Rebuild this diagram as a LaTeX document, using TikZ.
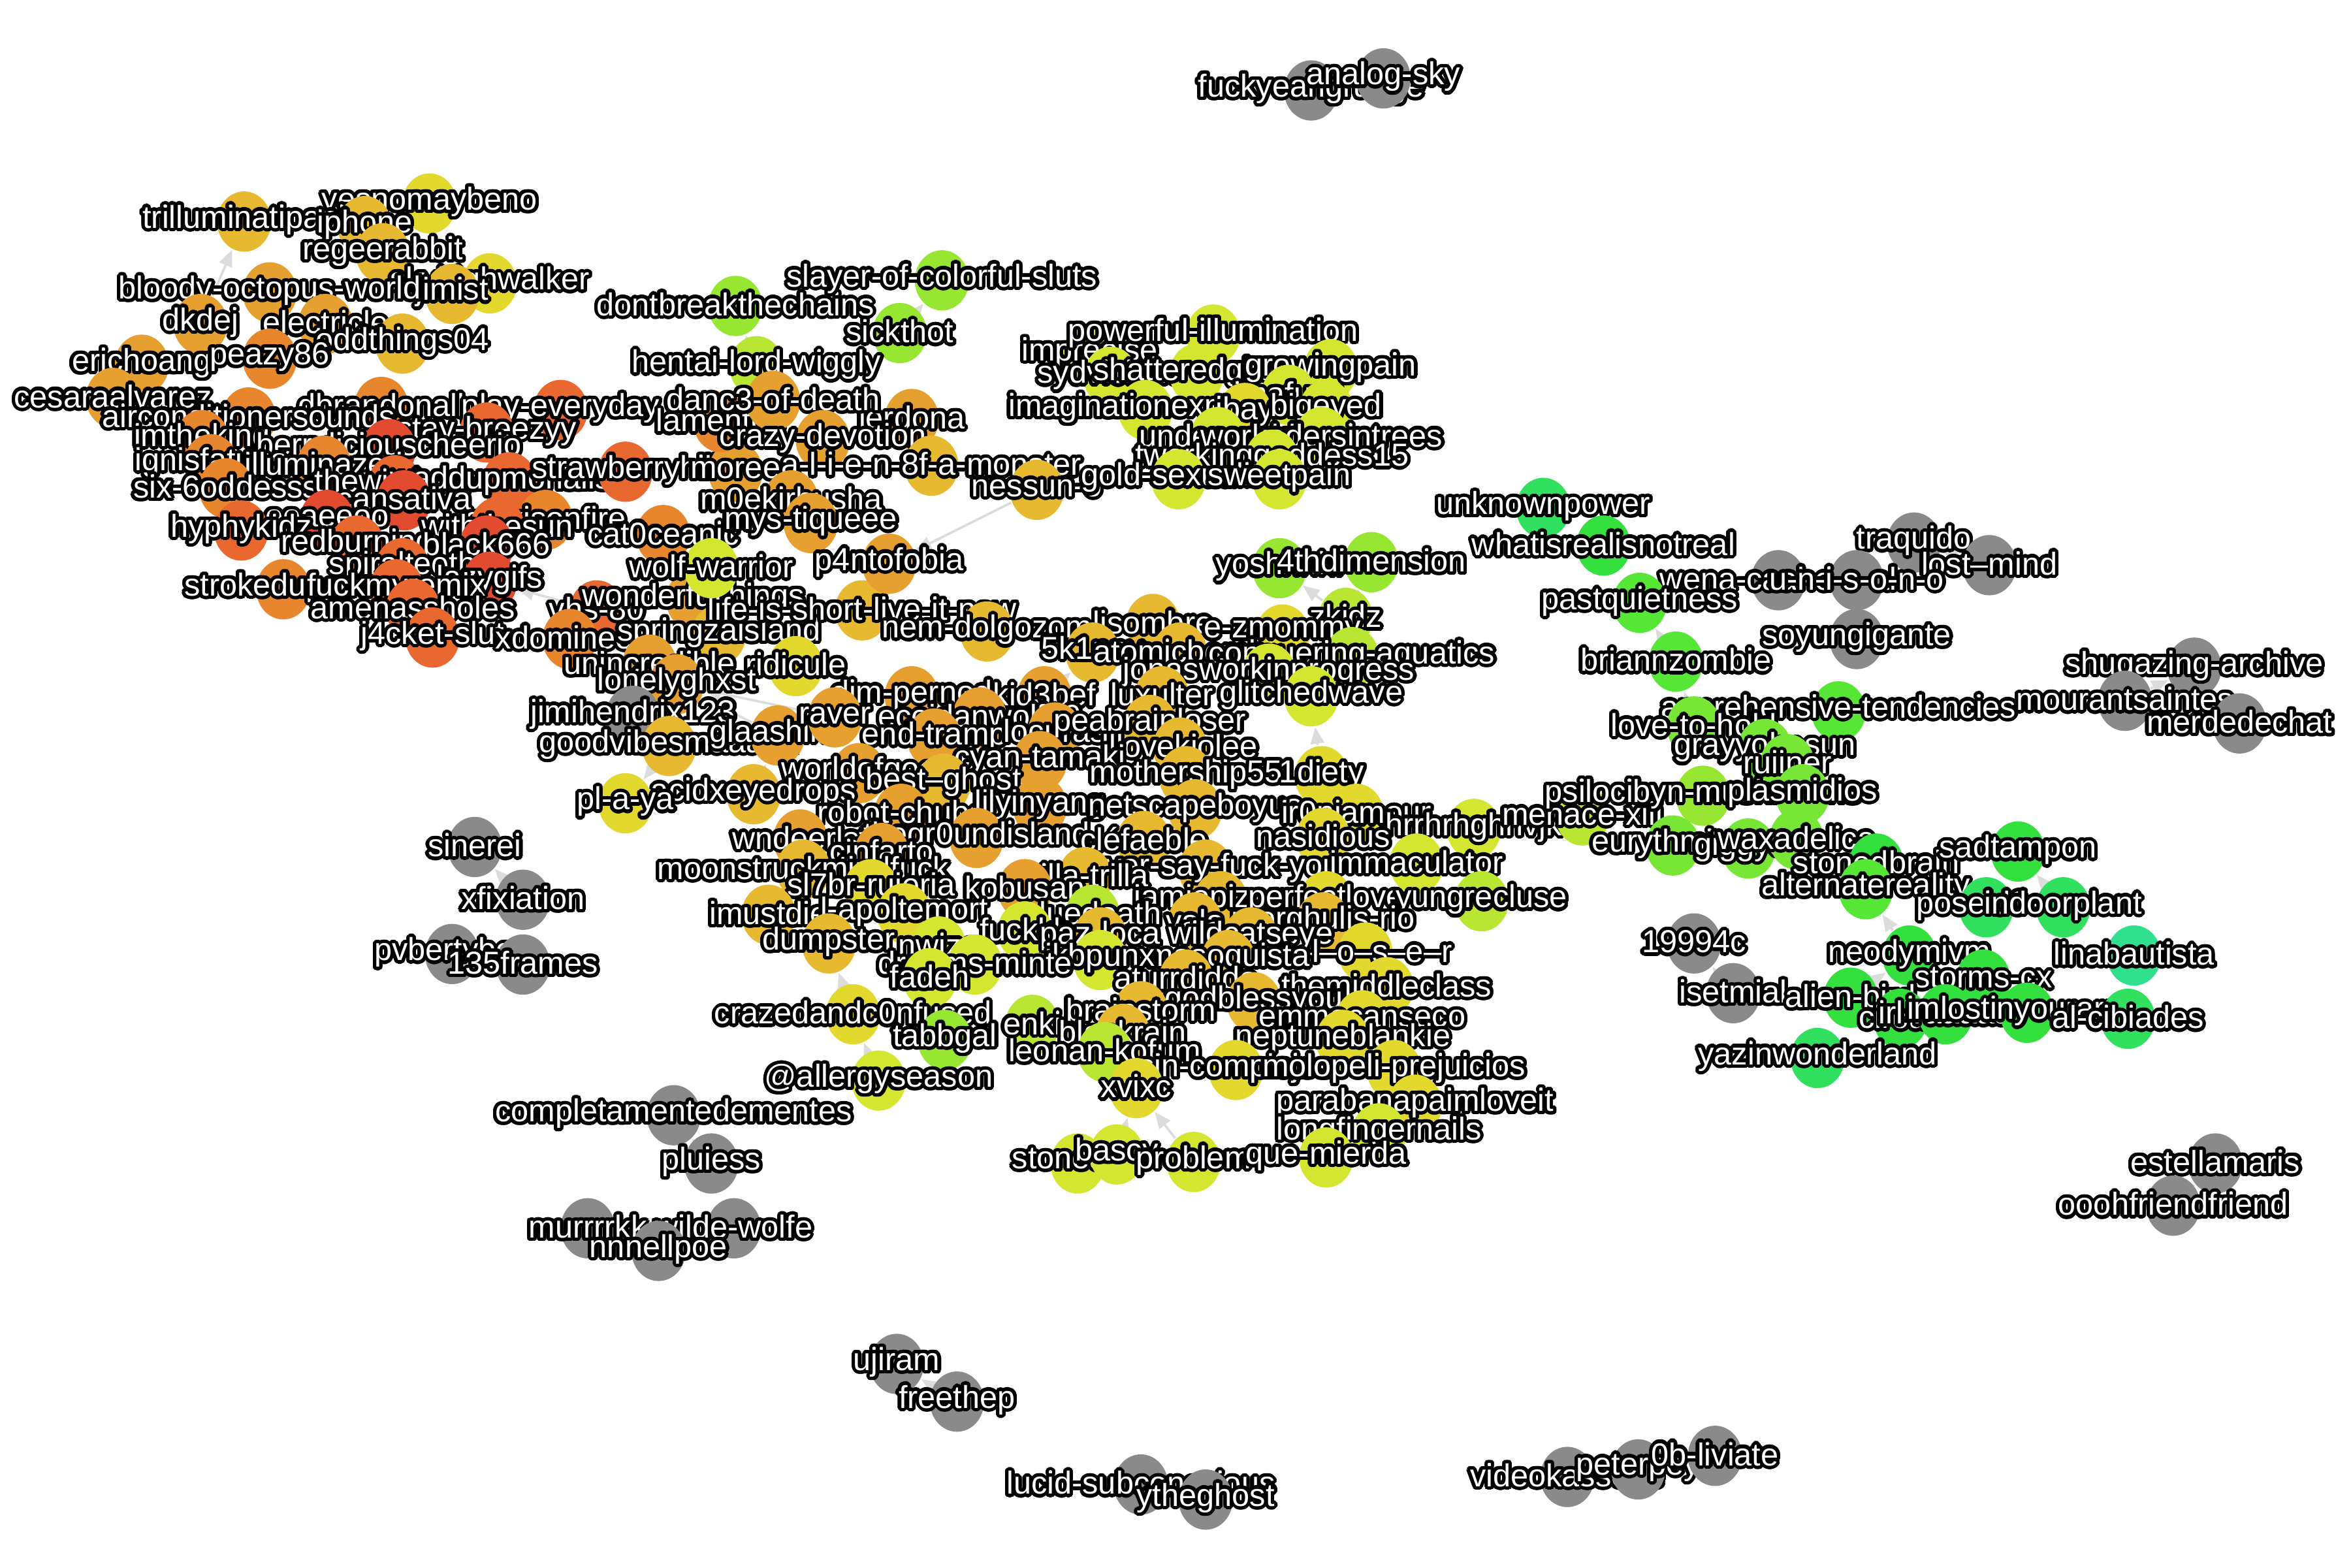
\documentclass[tikz,border=0pt]{standalone}
\usepackage{fontspec}
\setmainfont{Liberation Sans}
\usepackage{xcolor}
\usepackage{contour}
\contourlength{0.65pt}
\contournumber{24}
\usetikzlibrary{shapes.geometric,arrows.meta,backgrounds}

\definecolor{cRd}{HTML}{E34B31}
\definecolor{cRo}{HTML}{E8682F}
\definecolor{cOr}{HTML}{E8862E}
\definecolor{cAm}{HTML}{E6A030}
\definecolor{cGo}{HTML}{E6B930}
\definecolor{cYe}{HTML}{E3D92E}
\definecolor{cLi}{HTML}{D5E630}
\definecolor{cYg}{HTML}{B8E632}
\definecolor{cGr}{HTML}{96E632}
\definecolor{cGl}{HTML}{78E634}
\definecolor{cGn}{HTML}{55E636}
\definecolor{cEm}{HTML}{34E03E}
\definecolor{cSg}{HTML}{30E05E}
\definecolor{cTq}{HTML}{30E08E}
\definecolor{cGy}{HTML}{8A8A8A}
\definecolor{edgegray}{HTML}{DCDCDC}

\newcommand\nm[1]{\makebox[0pt]{\contour{black}{#1}}}

\begin{document}
\begin{tikzpicture}[x=0.1mm, y=-0.1mm,
    usr/.style={shape=ellipse, minimum width=3.6mm, minimum height=4mm,
      inner sep=0pt, fill=#1, text=white, font=\fontsize{6}{6.5}\selectfont},
    ed/.style={draw=edgegray, line width=0.45pt,
      -{Triangle[length=1.1mm,width=0.9mm]}}]
  \useasboundingbox (0,0) rectangle (1560,1040);

  % isolated pairs
  \node[usr=cGy] (fuckyeah) at (870,60) {\nm{fuckyeahgrunge}};
  \node[usr=cGy] (analogsky) at (918,52) {\nm{analog-sky}};
  \node[usr=cGy] (sinerei) at (315,562) {\nm{sinerei}};
  \node[usr=cGy] (xfixiation) at (347,597) {\nm{xfixiation}};
  \node[usr=cGy] (pvbertyboy) at (300,633) {\nm{pvbertyboy}};
  \node[usr=cGy] (135frames) at (347,640) {\nm{135frames}};
  \node[usr=cGy] (completamentedementes) at (447,740) {\nm{completamentedementes}};
  \node[usr=cGy] (pluiess) at (472,772) {\nm{pluiess}};
  \node[usr=cGy] (murrrrkk) at (390,815) {\nm{murrrrkk}};
  \node[usr=cGy] (wildewolfe) at (487,815) {\nm{wilde-wolfe}};
  \node[usr=cGy] (nnnellpoe) at (437,830) {\nm{nnnellpoe}};
  \node[usr=cGy] (ujiram) at (595,905) {\nm{ujiram}};
  \node[usr=cGy] (freethep) at (635,930) {\nm{freethep}};
  \node[usr=cGy] (lucidsub) at (757,985) {\nm{lucid-subconscious}};
  \node[usr=cGy] (ytheghost) at (800,995) {\nm{ytheghost}};
  \node[usr=cGy] (videokassette) at (1040,980) {\nm{videokassette}};
  \node[usr=cGy] (peterpey) at (1087,975) {\nm{peterpey}};
  \node[usr=cGy] (0bliviate) at (1138,966) {\nm{0b-liviate}};
  \node[usr=cGy] (estellamaris) at (1470,772) {\nm{estellamaris}};
  \node[usr=cGy] (ooohfriendfriend) at (1442,800) {\nm{ooohfriendfriend}};
  \node[usr=cGy] (19994c) at (1124,626) {\nm{19994c}};
  \node[usr=cGy] (isetmial) at (1150,659) {\nm{isetmial}};
  \node[usr=cGy] (shugazing) at (1456,443) {\nm{shugazing-archive}};
  \node[usr=cGy] (mourantsaintes) at (1410,465) {\nm{mourantsaintes}};
  \node[usr=cGy] (merdedechat) at (1486,480) {\nm{merdedechat}};
  \node[usr=cGy] (traquido) at (1270,360) {\nm{traquido}};
  \node[usr=cGy] (lostmind) at (1320,375) {\nm{lost--mind}};
  \node[usr=cGy] (wenacaal) at (1180,385) {\nm{wena-caal-oficial}};
  \node[usr=cGy] (unisono) at (1232,385) {\nm{u-n-i-s-o-n-o}};
  \node[usr=cGy] (soyungigante) at (1232,424) {\nm{soyungigante}};

  % left cluster
  \node[usr=cYe] (yesnomaybeno) at (285,135) {\nm{yesnomaybeno}};
  \node[usr=cGo] (trilluminatipapi) at (162,147) {\nm{trilluminatipapi}};
  \node[usr=cGo] (iphone) at (242,150) {\nm{iphone}};
  \node[usr=cGo] (regeerabbit) at (254,168) {\nm{regeerabbit}};
  \node[usr=cYe] (skyhighwalker) at (325,188) {\nm{skyhighwalker}};
  \node[usr=cGo] (jimist) at (300,195) {\nm{jimist}};
  \node[usr=cAm] (bloodyoctopus) at (179,194) {\nm{bloody-octopus-world}};
  \node[usr=cAm] (dkdej) at (133,215) {\nm{dkdej}};
  \node[usr=cAm] (electricle) at (216,215) {\nm{electricle}};
  \node[usr=cGo] (oddthings04) at (267,228) {\nm{oddthings04}};
  \node[usr=cAm] (erichoang) at (94,242) {\nm{erichoang}};
  \node[usr=cOr] (peazy86) at (179,238) {\nm{peazy86}};
  \node[usr=cAm] (cesaraalvarez) at (75,264) {\nm{cesaraalvarez}};
  \node[usr=cOr] (dbrandonall) at (253,270) {\nm{dbrandonall}};
  \node[usr=cOr] (airconditioner) at (165,277) {\nm{airconditionersounds}};
  \node[usr=cRo] (playeveryday) at (372,272) {\nm{play-everyday}};
  \node[usr=cRo] (staybreezyy) at (323,287) {\nm{stay-breezyy}};
  \node[usr=cOr] (imtheking) at (134,292) {\nm{imtheking}};
  \node[usr=cRd] (berrylicious) at (258,298) {\nm{berryliciouscheerio}};
  \node[usr=cOr] (ignisfatuus) at (140,308) {\nm{ignisfatuus}};
  \node[usr=cOr] (illuminazeri) at (215,309) {\nm{illuminazeri}};
  \node[usr=cOr] (six6oddesss) at (150,324) {\nm{six-6oddesss}};
  \node[usr=cRo] (thewitchery) at (262,322) {\nm{thewitchery}};
  \node[usr=cRo] (waddup) at (338,320) {\nm{waddupmonalisa}};
  \node[usr=cRo] (strawberryhill) at (415,313) {\nm{strawberryhill}};
  \node[usr=cAm] (moree) at (488,313) {\nm{moree}};
  \node[usr=cRd] (cansativa) at (268,332) {\nm{cansativa}};
  \node[usr=cRd] (ooaeeoo) at (217,345) {\nm{ooaeeoo}};
  \node[usr=cRo] (hyphykidz) at (160,352) {\nm{hyphykidz}};
  \node[usr=cOr] (alexisonfire) at (362,345) {\nm{alexisonfire}};
  \node[usr=cRo] (withthesun) at (330,350) {\nm{withthesun}};
  \node[usr=cRo] (redburning) at (237,362) {\nm{redburning}};
  \node[usr=cRd] (black666) at (323,362) {\nm{black666}};
  \node[usr=cOr] (cat0ceanic) at (440,355) {\nm{cat0ceanic}};
  \node[usr=cRo] (spiralteeth) at (267,377) {\nm{spiralteeth}};
  \node[usr=cOr] (strokedupsoul) at (188,391) {\nm{strokedupsoul}};
  \node[usr=cRd] (lazygifs) at (325,386) {\nm{lazygifs}};
  \node[usr=cRo] (fuckmyremix) at (263,391) {\nm{fuckmyremix}};
  \node[usr=cRo] (amenassholes) at (274,404) {\nm{amenassholes}};
  \node[usr=cRo] (vhs80) at (396,405) {\nm{vhs-80}};
  \node[usr=cRo] (j4cketslut) at (287,423) {\nm{j4cket-slut}};
  \node[usr=cOr] (xdomineer) at (378,424) {\nm{xdomineer}};
  \node[usr=cAm] (wonderfulthings) at (460,398) {\nm{wonderfulthings}};
  \node[usr=cGo] (springzaisland) at (477,421) {\nm{springzaisland}};
  \node[usr=cGo] (lifeisshort) at (572,405) {\nm{life-is-short-live-it-now}};
  \node[usr=cYe] (ridicule) at (528,442) {\nm{ridicule}};
  \node[usr=cAm] (unincredible) at (431,441) {\nm{unincredible}};
  \node[usr=cAm] (lonelyghxst) at (449,454) {\nm{lonelyghxst}};
  \node[usr=cGy] (jimihendrix123) at (420,475) {\nm{jimihendrix123}};

  % upper middle
  \node[usr=cGr] (dontbreakthechains) at (488,203) {\nm{dontbreakthechains}};
  \node[usr=cGr] (slayer) at (625,186) {\nm{slayer-of-colorful-sluts}};
  \node[usr=cGr] (sickthot) at (597,221) {\nm{sickthot}};
  \node[usr=cYg] (hentailordwiggly) at (502,243) {\nm{hentai-lord-wiggly}};
  \node[usr=cOr] (lamentos) at (478,280) {\nm{lamentos}};
  \node[usr=cAm] (lerdona) at (605,278) {\nm{lerdona}};
  \node[usr=cAm] (danc3ofdeath) at (513,266) {\nm{danc3-of-death}};
  \node[usr=cAm] (crazydevotion) at (546,292) {\nm{crazy-devotion}};
  \node[usr=cGo] (alien8f) at (618,309) {\nm{a-l-i-e-n-8f-a-monster}};
  \node[usr=cGo] (nessuno) at (688,325) {\nm{nessun-o}};
  \node[usr=cAm] (m0ekirbusha) at (525,332) {\nm{m0ekirbusha}};
  \node[usr=cAm] (mystiqueee) at (538,347) {\nm{mys-tiqueee}};
  \node[usr=cLi] (wolfwarrior) at (472,377) {\nm{wolf-warrior}};
  \node[usr=cAm] (p4ntofobia) at (590,374) {\nm{p4ntofobia}};

  % upper yellow group
  \node[usr=cLi] (imprecise) at (723,235) {\nm{imprecise}};
  \node[usr=cLi] (powerful) at (805,222) {\nm{powerful-illumination}};
  \node[usr=cLi] (sydvicious) at (737,250) {\nm{sydvicious}};
  \node[usr=cLi] (shatteredglass) at (794,248) {\nm{shatteredglass}};
  \node[usr=cLi] (growingpain) at (883,245) {\nm{growingpain}};
  \node[usr=cLi] (imafuzz) at (855,262) {\nm{imafuzz}};
  \node[usr=cLi] (imaginationexpress) at (760,272) {\nm{imaginationexpress}};
  \node[usr=cYe] (ibay) at (826,274) {\nm{ibay}};
  \node[usr=cLi] (bigeyed) at (880,272) {\nm{bigeyed}};
  \node[usr=cLi] (underworld) at (808,290) {\nm{underworld}};
  \node[usr=cLi] (workaders) at (877,290) {\nm{workadersintrees}};
  \node[usr=cLi] (twerking) at (844,305) {\nm{twerkinggoddess15}};
  \node[usr=cLi] (goldsexuality) at (782,318) {\nm{gold-sexuality}};
  \node[usr=cLi] (sweetpain) at (849,318) {\nm{sweetpain}};

  % centre cluster
  \node[usr=cGr] (yoshhhhi) at (849,377) {\nm{yoshhhhi}};
  \node[usr=cGr] (4thdimension) at (910,373) {\nm{4thdimension}};
  \node[usr=cGo] (nemdolgozom) at (655,419) {\nm{nem-dolgozom}};
  \node[usr=cGo] (lisombre) at (765,414) {\nm{lisombre}};
  \node[usr=cYg] (zkidz) at (893,410) {\nm{zkidz}};
  \node[usr=cYe] (ezmommy) at (851,421) {\nm{e-zmommy}};
  \node[usr=cGo] (5k1nny) at (725,433) {\nm{5k1nny}};
  \node[usr=cGo] (atomicbomb) at (783,433) {\nm{atomicbomb}};
  \node[usr=cYg] (aquatics) at (897,436) {\nm{conquering-aquatics}};
  \node[usr=cLi] (jonas) at (842,447) {\nm{jonasworkinprogress}};
  \node[usr=cGo] (luxulter) at (771,462) {\nm{luxulter}};
  \node[usr=cLi] (glitchedwave) at (870,462) {\nm{glitchedwave}};
  \node[usr=cAm] (dimpernod) at (605,462) {\nm{dim-pernod}};
  \node[usr=cAm] (kid3bef) at (693,462) {\nm{kid3bef}};
  \node[usr=cGo] (goodvibes) at (444,495) {\nm{goodvibesmaaaan}};
  \node[usr=cAm] (glaashine) at (516,488) {\nm{glaashine}};
  \node[usr=cAm] (raver) at (554,476) {\nm{raver}};
  \node[usr=cAm] (ecoidanwolf10) at (650,476) {\nm{ecoidanwolf10}};
  \node[usr=cAm] (endtramp) at (620,490) {\nm{end-tramp}};
  \node[usr=cAm] (locuras) at (700,486) {\nm{locuras}};
  \node[usr=cGo] (peabrainloser) at (763,481) {\nm{peabrainloser}};
  \node[usr=cGo] (lllovekiolee) at (783,496) {\nm{lllovekiolee}};
  \node[usr=cAm] (cyantamaki) at (690,505) {\nm{cyan-tamaki}};
  \node[usr=cAm] (worldofgoo) at (570,513) {\nm{worldofgoo}};
  \node[usr=cGo] (mothership55) at (787,515) {\nm{mothership55}};
  \node[usr=cYe] (1diety) at (877,515) {\nm{1diety}};
  \node[usr=cGo] (acidxeyedrops) at (500,527) {\nm{acidxeyedrops}};
  \node[usr=cYe] (playa) at (415,533) {\nm{pl-a-ya}};
  \node[usr=cGo] (bestghost) at (626,520) {\nm{best--ghost}};
  \node[usr=cAm] (robotchubs) at (598,540) {\nm{robot-chubs}};
  \node[usr=cAm] (lilyinyang) at (690,535) {\nm{lilyinyang}};
  \node[usr=cGo] (netscapeboyus) at (793,537) {\nm{netscapeboyus}};
  \node[usr=cYe] (ir0niamour) at (900,540) {\nm{ir0niamour}};
  \node[usr=cLi] (hrrhrh) at (978,550) {\nm{hrrhrhghnvjk}};
  \node[usr=cYg] (menacexiii) at (1050,541) {\nm{menace-xiii}};
  \node[usr=cAm] (wndeerlst) at (531,557) {\nm{wndeerlst}};
  \node[usr=cAm] (thegr0undisland) at (648,556) {\nm{thegr0undisland}};
  \node[usr=cGo] (clefaeble) at (759,558) {\nm{cléfaeble}};
  \node[usr=cYe] (nasidious) at (878,556) {\nm{nasidious}};
  \node[usr=cAm] (cinfarto) at (585,566) {\nm{cinfarto}};
  \node[usr=cGo] (moonstruck) at (533,577) {\nm{moonstruckmindfuck}};
  \node[usr=cGo] (neversay) at (800,577) {\nm{never-say-fuck-you}};
  \node[usr=cLi] (immaculator) at (940,573) {\nm{immaculator}};
  \node[usr=cGo] (trillatrilla) at (720,582) {\nm{trilla-trilla}};
  \node[usr=cYe] (sl7brrujeria) at (578,590) {\nm{sl7br-rujeria}};
  \node[usr=cAm] (kobusan) at (680,590) {\nm{kobusan}};
  \node[usr=cGo] (jamiepizarro) at (810,598) {\nm{jamiepizarro}};
  \node[usr=cYe] (perfectlove) at (880,598) {\nm{perfectlove}};
  \node[usr=cYg] (yungrecluse) at (983,598) {\nm{yungrecluse}};
  \node[usr=cGo] (imustdie) at (510,607) {\nm{imustdie}};
  \node[usr=cYe] (lapoltemort) at (600,606) {\nm{l-apoltemort}};
  \node[usr=cYg] (cluedeath) at (725,607) {\nm{cluedeath}};
  \node[usr=cGo] (vala) at (793,612) {\nm{vala}};
  \node[usr=cGo] (morghulis) at (878,612) {\nm{morghulis-rio}};
  \node[usr=cLi] (fuckkk) at (680,618) {\nm{fuckkk}};
  \node[usr=cGo] (pazloca) at (730,622) {\nm{paz-loca}};
  \node[usr=cGo] (wildcatseye) at (830,622) {\nm{wildcatseye}};
  \node[usr=cGo] (dumpster) at (550,626) {\nm{dumpster}};
  \node[usr=cLi] (nwiza) at (623,628) {\nm{nwiza}};
  \node[usr=cYe] (closer) at (906,632) {\nm{c--l--o--s--e--r}};
  \node[usr=cGo] (masoquista) at (815,637) {\nm{masoquista}};
  \node[usr=cLi] (ikbpunx) at (730,637) {\nm{ikbpunx}};
  \node[usr=cLi] (dreamsminte) at (647,640) {\nm{dreams-minte}};
  \node[usr=cLi] (fadeh) at (617,649) {\nm{fadeh}};
  \node[usr=cGo] (aturrdiddo) at (787,650) {\nm{aturrdiddo}};
  \node[usr=cYe] (themiddleclass) at (920,655) {\nm{themiddleclass}};
  \node[usr=cGo] (godblessyou) at (832,665) {\nm{godblessyou}};
  \node[usr=cGo] (brainstorm) at (757,671) {\nm{brainstorm}};
  \node[usr=cYe] (crazed) at (566,673) {\nm{crazedandc0nfused}};
  \node[usr=cYe] (emmacanseco) at (904,677) {\nm{emmacanseco}};
  \node[usr=cYg] (enki) at (685,680) {\nm{enki}};
  \node[usr=cGo] (blackrain) at (745,686) {\nm{blackrain}};
  \node[usr=cGr] (tabbgal) at (627,690) {\nm{tabbgal}};
  \node[usr=cYe] (neptuneblankie) at (891,690) {\nm{neptuneblankie}};
  \node[usr=cYg] (leonankofum) at (733,698) {\nm{leonan-kofum}};
  \node[usr=cYe] (sincomplejos) at (820,710) {\nm{sin-complejos}};
  \node[usr=cYe] (molopeli) at (925,710) {\nm{molopeli-prejuicios}};
  \node[usr=cLi] (allergyseason) at (583,717) {\nm{@allergyseason}};
  \node[usr=cYe] (xvixc) at (754,722) {\nm{xvixc}};
  \node[usr=cYe] (parabanapa) at (939,733) {\nm{parabanapaimloveit}};
  \node[usr=cLi] (longfingernails) at (915,752) {\nm{longfingernails}};
  \node[usr=cLi] (stoneage) at (715,772) {\nm{stoneage}};
  \node[usr=cLi] (bascy) at (741,766) {\nm{bascy}};
  \node[usr=cLi] (problem) at (792,771) {\nm{problem}};
  \node[usr=cLi] (quemierda) at (880,768) {\nm{que-mierda}};

  % right cluster
  \node[usr=cSg] (unknownpower) at (1024,337) {\nm{unknownpower}};
  \node[usr=cEm] (whatisreal) at (1064,362) {\nm{whatisrealisnotreal}};
  \node[usr=cGn] (pastquietness) at (1088,400) {\nm{pastquietness}};
  \node[usr=cGn] (briannzombie) at (1112,439) {\nm{briannzombie}};
  \node[usr=cGn] (apprehensive) at (1220,472) {\nm{apprehensive-tendencies}};
  \node[usr=cGl] (lovetohold) at (1124,482) {\nm{love-to-hold}};
  \node[usr=cGl] (grayyohesun) at (1171,497) {\nm{grayyohesun}};
  \node[usr=cGl] (ruiiner) at (1186,507) {\nm{ruiiner}};
  \node[usr=cGr] (psilocibyn) at (1130,528) {\nm{psilocibyn-mushrooms}};
  \node[usr=cGl] (plasmidios) at (1196,527) {\nm{plasmidios}};
  \node[usr=cGl] (eurythmical) at (1110,561) {\nm{eurythmical}};
  \node[usr=cGl] (giggyss) at (1160,563) {\nm{giggyss}};
  \node[usr=cGl] (waxadelica) at (1192,557) {\nm{waxadelica}};
  \node[usr=cEm] (stonedbrain) at (1245,573) {\nm{stonedbrain}};
  \node[usr=cEm] (sadtampon) at (1339,565) {\nm{sadtampon}};
  \node[usr=cGn] (alternatereality) at (1238,590) {\nm{alternatereality}};
  \node[usr=cSg] (poseid0n) at (1318,602) {\nm{poseid0-n}};
  \node[usr=cSg] (indoorplant) at (1369,602) {\nm{indoorplant}};
  \node[usr=cEm] (neodymivm) at (1267,634) {\nm{neodymivm}};
  \node[usr=cTq] (linabautista) at (1416,634) {\nm{linabautista}};
  \node[usr=cEm] (stormscx) at (1316,650) {\nm{storms-cx}};
  \node[usr=cEm] (alienbird) at (1228,662) {\nm{alien-bird}};
  \node[usr=cEm] (circus) at (1261,676) {\nm{circus}};
  \node[usr=cEm] (irlraaaaa) at (1291,673) {\nm{irl-raaaaa}};
  \node[usr=cEm] (imlostinyourarms) at (1345,672) {\nm{imlostinyourarms}};
  \node[usr=cSg] (alcibiades) at (1412,676) {\nm{al-cibiades}};
  \node[usr=cSg] (yazinwonderland) at (1206,702) {\nm{yazinwonderland}};

  \begin{scope}[on background layer]
    \draw[ed] (analogsky) -- (fuckyeah);
    \draw[ed] (xfixiation) -- (sinerei);
    \draw[ed] (135frames) -- (pvbertyboy);
    \draw[ed] (pluiess) -- (completamentedementes);
    \draw[ed] (nnnellpoe) -- (murrrrkk);
    \draw[ed] (wildewolfe) -- (nnnellpoe);
    \draw[ed] (freethep) -- (ujiram);
    \draw[ed] (ytheghost) -- (lucidsub);
    \draw[ed] (peterpey) -- (videokassette);
    \draw[ed] (0bliviate) -- (peterpey);
    \draw[ed] (ooohfriendfriend) -- (estellamaris);
    \draw[ed] (isetmial) -- (19994c);
    \draw[ed] (mourantsaintes) -- (shugazing);
    \draw[ed] (merdedechat) -- (shugazing);
    \draw[ed] (lostmind) -- (traquido);
    \draw[ed] (unisono) -- (wenacaal);
    \draw[ed] (soyungigante) -- (unisono);
    \draw[ed] (dkdej) -- (trilluminatipapi);
    \draw[ed] (vhs80) -- (lazygifs);
    \draw[ed] (nessuno) -- (p4ntofobia);
    \draw[ed] (p4ntofobia) -- (lifeisshort);
    \draw[ed] (raver) -- (lonelyghxst);
    \draw[ed] (glaashine) -- (lonelyghxst);
    \draw[ed] (goodvibes) -- (playa);
    \draw[ed] (acidxeyedrops) -- (glaashine);
    \draw[ed] (hentailordwiggly) -- (dontbreakthechains);
    \draw[ed] (sickthot) -- (slayer);
    \draw[ed] (goldsexuality) -- (imaginationexpress);
    \draw[ed] (kid3bef) -- (5k1nny);
    \draw[ed] (zkidz) -- (yoshhhhi);
    \draw[ed] (zkidz) -- (4thdimension);
    \draw[ed] (1diety) -- (glitchedwave);
    \draw[ed] (crazed) -- (dumpster);
    \draw[ed] (allergyseason) -- (crazed);
    \draw[ed] (bascy) -- (xvixc);
    \draw[ed] (problem) -- (xvixc);
    \draw[ed] (briannzombie) -- (pastquietness);
    \draw[ed] (lovetohold) -- (briannzombie);
    \draw[ed] (ruiiner) -- (lovetohold);
    \draw[ed] (plasmidios) -- (ruiiner);
    \draw[ed] (waxadelica) -- (plasmidios);
    \draw[ed] (indoorplant) -- (sadtampon);
    \draw[ed] (neodymivm) -- (alternatereality);
    \draw[ed] (alienbird) -- (neodymivm);
  \end{scope}
\end{tikzpicture}
\end{document}
